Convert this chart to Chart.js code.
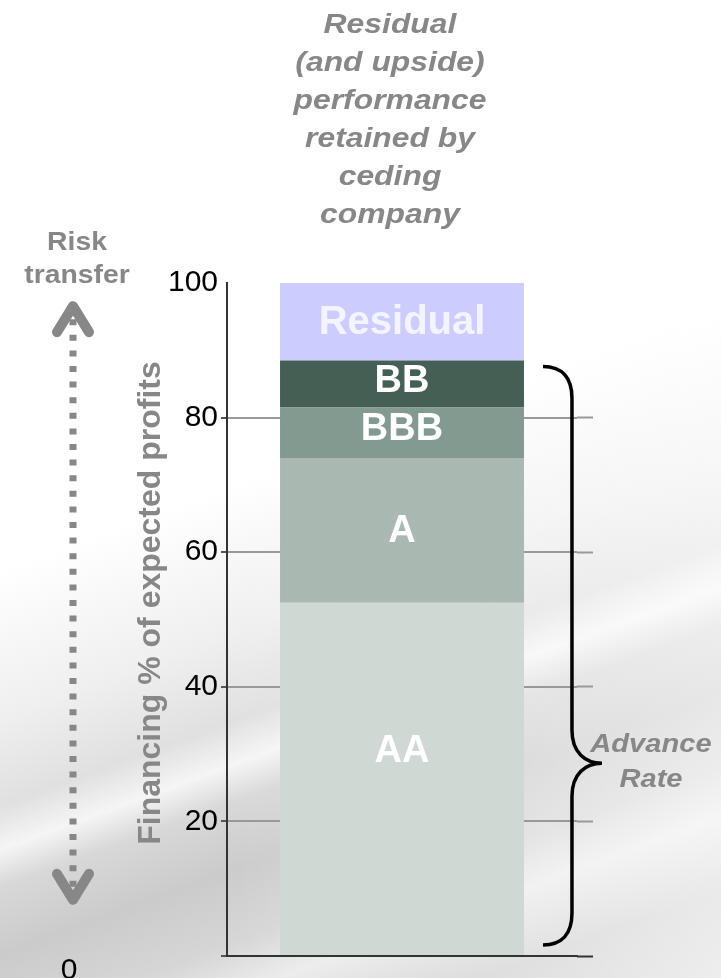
<!DOCTYPE html>
<html>
<head>
<meta charset="utf-8">
<script src="https://cdn.jsdelivr.net/npm/chart.js@4.4.1/dist/chart.umd.min.js"></script>
<style>
  html, body { margin: 0; padding: 0; }
  #wrap {
    width: 721px; height: 978px; position: relative;
    background:
      linear-gradient(90deg, rgba(255,255,255,0) 30%, rgba(255,255,255,0.55) 100%),
      linear-gradient(160deg, #fff 0%, #fff 46%, #efefef 58%, #e0e0e0 65%, #f5f5f5 68.5%, #d8d8d8 71.5%, #cbcbcb 77%, #d6d6d6 83%, #ebebeb 87%, #d0d0d0 93%, #d8d8d8 100%);
  }
  canvas { display: block; }
</style>
</head>
<body>
<div id="wrap"><canvas id="chart"></canvas></div>
<script>
// tranches, bottom to top
var categories = ['Deal'];
var tranches = ['AA', 'A', 'BBB', 'BB', 'Residual'];
var trancheSizes = [52.5, 21.5, 7.5, 7, 11.5];
var trancheColors = ['#cfd8d3', '#a9b9b1', '#829a8f', '#465f55', '#ccccff'];
var yTicks = [0, 20, 40, 60, 80, 100];

var axisTitle = 'Financing % of expected profits';
var noteLines = ['Residual', '(and upside)', 'performance', 'retained by', 'ceding', 'company'];
var riskLines = ['Risk', 'transfer'];
var advanceLines = ['Advance', 'Rate'];

var FONT = '"Liberation Sans", Arial, Helvetica, sans-serif';
var GREY = '#878787';

// text with a horizontal stretch, like the source slide
function drawText(ctx, txt, x, y, font, color, sx) {
  ctx.save();
  ctx.translate(x, y);
  ctx.scale(sx || 1, 1);
  ctx.font = font;
  ctx.fillStyle = color;
  ctx.textAlign = 'center';
  ctx.textBaseline = 'alphabetic';
  ctx.fillText(txt, 0, 0);
  ctx.restore();
}

var decorPlugin = {
  id: 'decor',
  afterDraw: function(chart) {
    var ctx = chart.ctx;
    var ys = chart.scales.y;

    // labels inside the bar segments
    var nudge = { AA: -28, BBB: -4, BB: -3 };
    for (var i = 0; i < tranches.length; i++) {
      var el = chart.getDatasetMeta(i).data[0];
      var cy = (el.y + el.base) / 2 + (nudge[tranches[i]] || 0);
      var isRes = tranches[i] == 'Residual';
      ctx.save();
      ctx.font = 'bold ' + (isRes ? 40 : 38) + 'px ' + FONT;
      ctx.fillStyle = isRes ? '#f4f4ff' : '#ffffff';
      ctx.textAlign = 'center';
      ctx.textBaseline = 'middle';
      ctx.fillText(tranches[i], el.x, cy + 1);
      ctx.restore();
    }

    // rotated axis title
    ctx.save();
    ctx.translate(151, 603);
    ctx.rotate(-Math.PI / 2);
    ctx.font = 'bold 32px ' + FONT;
    ctx.fillStyle = GREY;
    ctx.textAlign = 'center';
    ctx.textBaseline = 'middle';
    ctx.fillText(axisTitle, 0, 0);
    ctx.restore();

    // the "0" tick sits far to the left in the original
    ctx.save();
    ctx.font = '30px ' + FONT;
    ctx.fillStyle = '#000';
    ctx.textAlign = 'center';
    ctx.textBaseline = 'alphabetic';
    ctx.fillText('0', 69, ys.getPixelForValue(0) + 23);
    ctx.restore();

    // top note
    for (var n = 0; n < noteLines.length; n++) {
      drawText(ctx, noteLines[n], 390, 33 + n * 38, 'italic bold 27px ' + FONT, GREY, 1.18);
    }
    // risk transfer
    drawText(ctx, riskLines[0], 77, 250, 'bold 26px ' + FONT, GREY, 1.09);
    drawText(ctx, riskLines[1], 77, 283, 'bold 26px ' + FONT, GREY, 1.09);
    // advance rate
    drawText(ctx, advanceLines[0], 651, 752, 'italic bold 26px ' + FONT, GREY, 1.12);
    drawText(ctx, advanceLines[1], 651, 787, 'italic bold 26px ' + FONT, GREY, 1.12);

    // dotted double arrow
    var ax = 73;
    var topTip = ys.getPixelForValue(97);
    var botTip = ys.getPixelForValue(7.9);
    ctx.save();
    ctx.strokeStyle = GREY;
    ctx.lineWidth = 7;
    ctx.setLineDash([6, 9.6]);
    ctx.beginPath();
    ctx.moveTo(ax, topTip + 16);
    ctx.lineTo(ax, botTip - 14);
    ctx.stroke();
    ctx.setLineDash([]);
    ctx.lineWidth = 10;
    ctx.lineCap = 'round';
    ctx.lineJoin = 'round';
    ctx.beginPath();
    ctx.moveTo(ax - 16, topTip + 29);
    ctx.lineTo(ax, topTip + 3);
    ctx.lineTo(ax + 16, topTip + 29);
    ctx.moveTo(ax - 16, botTip - 29);
    ctx.lineTo(ax, botTip - 3);
    ctx.lineTo(ax + 16, botTip - 29);
    ctx.stroke();
    ctx.restore();

    // curly brace over the rated tranches (advance rate)
    var top = chart.getDatasetMeta(3).data[0];
    var bx = top.x + top.width / 2 + 19;
    var vx = bx + 29;
    var tx = bx + 59;
    var y1 = top.y + 6;
    var y2 = ys.getPixelForValue(0) - 11;
    var ym = y1 + (y2 - y1) * 0.686;
    ctx.save();
    ctx.strokeStyle = '#000';
    ctx.lineWidth = 3.5;
    ctx.beginPath();
    ctx.moveTo(bx, y1);
    ctx.bezierCurveTo(bx + 19, y1, vx, y1 + 11, vx, y1 + 32);
    ctx.lineTo(vx, ym - 33);
    ctx.bezierCurveTo(vx, ym - 11, vx + 13, ym, tx, ym);
    ctx.bezierCurveTo(vx + 13, ym, vx, ym + 11, vx, ym + 33);
    ctx.lineTo(vx, y2 - 32);
    ctx.bezierCurveTo(vx, y2 - 11, bx + 19, y2, bx, y2);
    ctx.stroke();
    ctx.restore();
  }
};

var datasets = [];
for (var i = 0; i < tranches.length; i++) {
  datasets.push({
    label: tranches[i],
    data: [trancheSizes[i]],
    backgroundColor: trancheColors[i],
    borderWidth: 0,
    stack: 'deal',
    barPercentage: 0.697,
    categoryPercentage: 1
  });
}

function tickList(scale) {
  scale.ticks = yTicks.map(function(v) { return { value: v }; });
}

new Chart(document.getElementById('chart'), {
  type: 'bar',
  data: { labels: categories, datasets: datasets },
  options: {
    responsive: true,
    maintainAspectRatio: false,
    animation: false,
    layout: { padding: { top: 283, left: 0, right: 0, bottom: 0 } },
    plugins: { legend: { display: false }, tooltip: { enabled: false } },
    scales: {
      x: {
        stacked: true,
        ticks: { display: false },
        grid: { display: false },
        border: { color: '#333', width: 2 },
        afterFit: function(s) { s.height = 22; }
      },
      y: {
        stacked: true,
        min: 0, max: 100,
        afterBuildTicks: tickList,
        ticks: {
          color: '#000',
          padding: 3,
          font: { family: FONT, size: 30 },
          callback: function(v) { return v === 0 ? '' : v; }
        },
        grid: {
          color: function(c) { return (c.tick && (c.tick.value === 0 || c.tick.value === 100)) ? 'rgba(0,0,0,0)' : '#999'; },
          lineWidth: 2,
          tickLength: 6,
          tickColor: function(c) { return (c.tick && c.tick.value === 100) ? 'rgba(0,0,0,0)' : '#555'; },
          tickWidth: 2
        },
        border: { color: '#333', width: 2 },
        afterFit: function(s) { s.width = 227; }
      },
      y2: {
        position: 'right',
        min: 0, max: 100,
        afterBuildTicks: tickList,
        ticks: { display: false },
        grid: {
          drawOnChartArea: false,
          tickLength: 16,
          tickColor: function(c) {
            if (!c.tick) return '#999';
            if (c.tick.value === 100) return 'rgba(0,0,0,0)';
            return c.tick.value === 0 ? '#333' : '#999';
          },
          tickWidth: 2
        },
        border: { display: false },
        afterFit: function(s) { s.width = 144; }
      }
    }
  },
  plugins: [decorPlugin]
});
</script>
</body>
</html>
